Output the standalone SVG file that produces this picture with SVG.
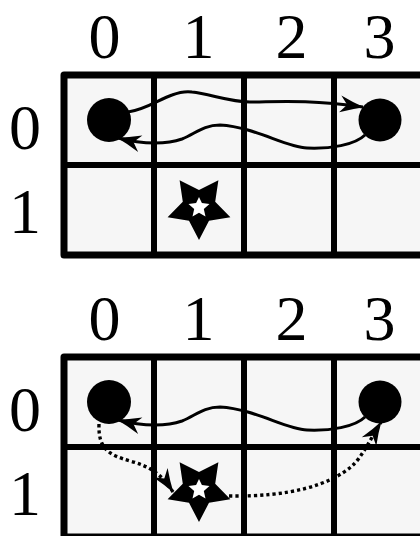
<svg xmlns="http://www.w3.org/2000/svg" width="420" height="536" viewBox="0 0 420 536">
<style>
.lbl{font-family:"Liberation Serif","DejaVu Serif",serif;font-size:64px;fill:#000;text-anchor:middle}
.frame{fill:#f6f6f6;stroke:#000;stroke-width:7;stroke-linejoin:round}
.gl{stroke:#000;stroke-width:6;fill:none}
.dot{fill:#000}
.con{fill:none;stroke:#000;stroke-width:3}
.dotted{fill:none;stroke:#000;stroke-width:3.4;stroke-dasharray:3.2 3}
</style>
<defs>
<marker id="ah" markerUnits="userSpaceOnUse" viewBox="-25 -11 27 22" refX="0" refY="0" markerWidth="27" markerHeight="22" orient="auto">
<path d="M1,0 Q-10,-3 -23,-8.5 L-16,0 L-23,8.5 Q-10,3 1,0 Z" fill="#000"/>
</marker>
<g id="star">
<polygon points="199,240 189,220.8 167.6,217.2 182.8,201.7 179.6,180.3 199,190 218.4,180.3 215.2,201.7 230.4,217.2 209,220.8" fill="#000"/>
<polygon points="199,197 201.9,203 209.5,204.1 203.8,208.9 205.5,216.5 199,212.7 192.5,216.5 194.2,208.9 188.5,204.1 196.1,203" fill="#fff"/>
</g>
</defs>
<rect width="420" height="536" fill="#fff"/>

<g id="panel-top">
<g id="labels-top">
<text class="lbl" x="104.5" y="57.5">0</text>
<text class="lbl" x="198.5" y="57.5">1</text>
<text class="lbl" x="291.5" y="57.5">2</text>
<text class="lbl" x="379.5" y="57.5">3</text>
<text class="lbl" x="25" y="149">0</text>
<text class="lbl" x="25" y="233">1</text>
</g>
<g id="grid-top">
<rect class="frame" x="64" y="75" width="360" height="180"/>
<path class="gl" d="M154,75V255M244,75V255M334,75V255M64,165H424"/>
</g>
<g id="top-circle-0"><circle class="dot" cx="109" cy="120" r="22"/></g>
<g id="top-circle-3"><circle class="dot" cx="380" cy="120" r="21.5"/></g>
<g id="top-star"><use href="#star"/></g>
<g id="connectors-top">
<path class="con" marker-end="url(#ah)" d="M128,112 C145,110 160,99 172,95 C180,92 185,91 192,92 C210,94 230,102 250,102 C275,102 305,99 363,107"/>
<path class="con" marker-end="url(#ah)" d="M365,135 C355,145 330,149 307,148 C285,147 255,127 220,125 C203,125 195,134 182,139 C168,144 145,145 118,138"/>
</g>
</g>

<g id="panel-bottom" transform="translate(0,282)">
<g id="labels-bottom">
<text class="lbl" x="104.5" y="57.5">0</text>
<text class="lbl" x="198.5" y="57.5">1</text>
<text class="lbl" x="291.5" y="57.5">2</text>
<text class="lbl" x="379.5" y="57.5">3</text>
<text class="lbl" x="25" y="149">0</text>
<text class="lbl" x="25" y="233">1</text>
</g>
<g id="grid-bottom">
<rect class="frame" x="64" y="75" width="360" height="180"/>
<path class="gl" d="M154,75V255M244,75V255M334,75V255M64,165H424"/>
</g>
<g id="bottom-circle-0"><circle class="dot" cx="109" cy="120" r="22"/></g>
<g id="bottom-circle-3"><circle class="dot" cx="380" cy="120" r="21.5"/></g>
<g id="bottom-star"><use href="#star"/></g>
<g id="connectors-bottom">
<path class="con" marker-end="url(#ah)" d="M365,135 C355,145 330,149 307,148 C285,147 255,127 220,125 C203,125 195,134 182,139 C168,144 145,145 118,138"/>
<path class="dotted" marker-end="url(#ah)" d="M99,142 C98,168 110,173 130,179 C148,184 160,190 173,210"/>
<path class="dotted" marker-end="url(#ah)" d="M229,214 C290,215 330,203 352,184 C362,175 370,158 381,140"/>
</g>
</g>
</svg>
